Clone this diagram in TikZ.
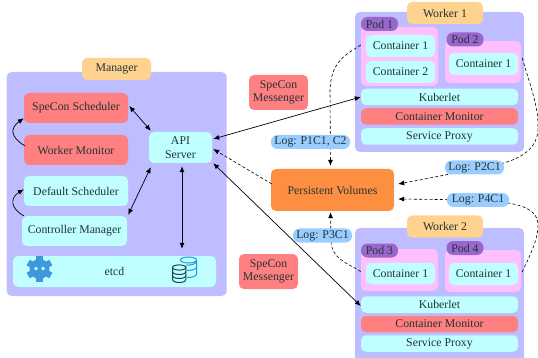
\documentclass[tikz,border=0pt]{standalone}
\usepackage{fontspec}
\setmainfont{Liberation Serif}
\usetikzlibrary{arrows.meta,calc}
\definecolor{panel}{HTML}{BDBDFF}
\definecolor{redb}{HTML}{FF8080}
\definecolor{cyanb}{HTML}{BFFFFF}
\definecolor{orangel}{HTML}{FFD28F}
\definecolor{pinkb}{HTML}{FFBFFF}
\definecolor{podl}{HTML}{9966CC}
\definecolor{pvb}{HTML}{FF8F40}
\definecolor{logb}{HTML}{99CCFF}
\definecolor{ink}{HTML}{223333}
\definecolor{gearb}{HTML}{3F97DC}
\definecolor{dbb}{HTML}{1E9BD7}
\definecolor{dbd}{HTML}{17474F}
\tikzset{
  lbl/.style={text=ink,font=\fontsize{11.8}{13.5}\selectfont,align=center},
  panelb/.style={fill=panel,rectangle,rounded corners=5pt,inner sep=0pt},
  redbox/.style={fill=redb,rectangle,rounded corners=5pt,inner sep=0pt,lbl},
  cyanbox/.style={fill=cyanb,rectangle,rounded corners=5pt,inner sep=0pt,lbl},
  orangebox/.style={fill=orangel,rectangle,rounded corners=5pt,inner sep=0pt,lbl},
  pinkbox/.style={fill=pinkb,rectangle,rounded corners=5pt,inner sep=0pt},
  podtag/.style={fill=podl,rectangle,rounded corners=6.5pt,inner sep=0pt,lbl},
  logtag/.style={fill=logb,rectangle,rounded corners=6.5pt,inner sep=0pt,lbl},
  pvbox/.style={fill=pvb,rectangle,rounded corners=5pt,inner sep=0pt,lbl},
  sz/.style 2 args={minimum width=#1,minimum height=#2},
  solidarr/.style={-{Latex[length=6pt,width=5pt]},black,line width=.7pt},
  dblarr/.style={{Latex[length=6pt,width=5pt]}-{Latex[length=6pt,width=5pt]},black,line width=.7pt},
  dasharr/.style={-{Latex[length=6pt,width=5pt]},black,line width=.6pt,dash pattern=on 3pt off 2.2pt},
}
\begin{document}
\begin{tikzpicture}[x=1pt,y=-1pt]
\clip (0,0) rectangle (538,358);
% Manager
\node[panelb,sz={220pt}{224pt}] (mgr) at (116.7,184) {};
\node[orangebox,sz={69pt}{22pt}] (mgrl) at (116.5,69) {Manager};
\node[redbox,sz={104pt}{30pt}] (sched) at (76,108) {SpeCon Scheduler};
\node[redbox,sz={104pt}{30pt}] (mon) at (76,150) {Worker Monitor};
\node[cyanbox,sz={104pt}{30pt}] (dsch) at (76,191) {Default Scheduler};
\node[cyanbox,sz={105pt}{30pt}] (ctrl) at (74.5,231) {Controller Manager};
\node[cyanbox,sz={63pt}{31pt}] (api) at (180.5,147.5) {API\\Server};
\node[cyanbox,sz={203pt}{31pt}] (etcd) at (114.5,271.5) {etcd};
% gear icon
\begin{scope}[shift={(39.5,269)}]
  \fill[gearb] (0,0) circle (10);
  \foreach \a in {0,60,...,300}{\fill[gearb,rotate=\a] (-3.2,-13) rectangle (3.2,-8);}
  \fill[cyanb] (-3.6,-0.5) circle (1.9);
  \fill[cyanb] (3.6,-0.5) circle (1.9);
\end{scope}
% database icon
\begin{scope}[line width=1pt]
  \begin{scope}[color=dbb]
    \draw (188.5,260) ellipse [x radius=8pt,y radius=3pt];
    \draw (196.5,260) -- (196.5,274) .. controls (196.5,276) and (193,277.5) .. (187,277.5);
    \draw (186,265) -- (186,265) .. controls (191,265.5) and (196.5,264) .. (196.5,261);
    \draw (187,270.5) .. controls (191,270.5) and (196.5,269.5) .. (196.5,267);
  \end{scope}
  \begin{scope}[color=dbd]
    \filldraw[fill=cyanb] (172.5,267.5) -- (172.5,279.5) .. controls (172.5,283.5) and (185.9,283.5) .. (185.9,279.5) -- (185.9,267.5) -- cycle;
    \filldraw[fill=cyanb] (179.2,267.5) ellipse [x radius=6.7pt,y radius=2.6pt];
    \draw (172.5,271.5) .. controls (172.5,275.5) and (185.9,275.5) .. (185.9,271.5);
    \draw (172.5,275.5) .. controls (172.5,279.5) and (185.9,279.5) .. (185.9,275.5);
  \end{scope}
\end{scope}
% Worker 1
\node[panelb,sz={169pt}{140pt}] (w1) at (439.5,82) {};
\node[orangebox,sz={76pt}{22pt}] (w1l) at (445,13) {Worker 1};
\node[pinkbox,sz={77pt}{59pt}] (p1) at (399.5,56.5) {};
\node[podtag,sz={37pt}{14pt}] (p1l) at (379.5,24) {Pod 1};
\node[cyanbox,sz={69pt}{22pt}] (c11) at (400.5,46) {Container 1};
\node[cyanbox,sz={69pt}{22pt}] (c12) at (400.5,72) {Container 2};
\node[pinkbox,sz={76pt}{42pt}] (p2) at (483,62) {};
\node[podtag,sz={37pt}{14pt}] (p2l) at (465,39.5) {Pod 2};
\node[cyanbox,sz={69pt}{22pt}] (c21) at (483.5,64) {Container 1};
\node[cyanbox,sz={157pt}{16.5pt}] (k1) at (439.5,97) {Kuberlet};
\node[redbox,sz={157pt}{16.5pt}] (m1) at (439.5,116.5) {Container Monitor};
\node[cyanbox,sz={157pt}{16.5pt}] (s1) at (439.5,136.5) {Service Proxy};
% Worker 2
\node[panelb,sz={169pt}{140pt}] (w2) at (439.5,298) {};
\node[orangebox,sz={76pt}{22pt}] (w2l) at (445,226.5) {Worker 2};
\node[pinkbox,sz={77pt}{42pt}] (p3) at (399.5,270) {};
\node[podtag,sz={37pt}{14pt}] (p3l) at (379.5,250.5) {Pod 3};
\node[cyanbox,sz={69pt}{21.5pt}] (c31) at (400.5,273.5) {Container 1};
\node[pinkbox,sz={76pt}{42pt}] (p4) at (483,271) {};
\node[podtag,sz={37pt}{14pt}] (p4l) at (465,248) {Pod 4};
\node[cyanbox,sz={69pt}{22pt}] (c41) at (483.5,274) {Container 1};
\node[cyanbox,sz={157pt}{16.5pt}] (k2) at (439.5,304.5) {Kuberlet};
\node[redbox,sz={157pt}{16.5pt}] (m2) at (439.5,324) {Container Monitor};
\node[cyanbox,sz={157pt}{16.5pt}] (s2) at (439.5,343.5) {Service Proxy};
% Middle
\node[redbox,sz={59pt}{35pt}] (msg1) at (278.5,92.5) {SpeCon\\Messenger};
\node[redbox,sz={59pt}{35pt}] (msg2) at (268.5,271.5) {SpeCon\\Messenger};
\node[pvbox,sz={123pt}{42pt}] (pv) at (332.5,190) {Persistent Volumes};
% Connectors
\coordinate (pvtop) at ($(pv.north)+(-2,-3)$);
\coordinate (pvbot) at ($(pv.south)+(-2,1)$);
\draw[dasharr] ($(c11.west)+(-5,-1)$) .. controls (345,55) and (331,62) .. (330,90) -- (pvtop);
\draw[dasharr] ($(c31.west)+(-5,-2)$) .. controls (345,262) and (331,258) .. (331,240) -- (pvbot);
\draw[dasharr] ($(p2.east)+(1,-4)$) .. controls (530,85) and (538,105) .. (538,125) .. controls (540,160) and (500,165) .. (460,172) .. controls (440,176) and (420,180) .. ($(pv.east)+(4,-6)$);
\draw[dasharr] ($(p4.east)+(1,1)$) .. controls (530,255) and (538,240) .. (538,225) .. controls (538,205) and (510,202) .. (478,200) -- ($(pv.east)+(4,9)$);
\draw[dasharr] ($(pv.west)+(1,-6)$) -- ($(api.east)+(1,1.5)$);
\draw[dblarr] ($(api.east)+(1,-8.5)$) -- ($(k1.west)+(0,0)$);
\draw[dblarr] ($(api.south east)+(1,0)$) -- ($(k2.west)+(0,1.5)$);
\draw[dblarr] ($(sched.east)+(1,-2)$) -- ($(api.north west)+(2,-1)$);
\draw[dblarr] ($(ctrl.north east)+(1,-1)$) -- ($(api.south west)+(2,4)$);
\draw[dblarr] ($(api.south)+(1.5,3)$) -- ($(etcd.north)+(67.5,-7)$);
\draw[solidarr] ($(mon.north west)+(1,11)$) .. controls (10,137) and (10,128) .. ($(sched.south west)+(0,-5)$);
\draw[solidarr] ($(ctrl.north west)+(2,0)$) .. controls (10,208) and (10,198) .. ($(dsch.south west)+(0,-17)$);
% Log tags
\node[logtag,sz={79pt}{14pt}] (l1) at (310.5,142) {Log: P1C1, C2};
\node[logtag,sz={59pt}{14pt}] (l2) at (474.5,167.5) {Log: P2C1};
\node[logtag,sz={59pt}{14pt}] (l3) at (322.5,235.5) {Log: P3C1};
\node[logtag,sz={62pt}{14pt}] (l4) at (478,200) {Log: P4C1};
\end{tikzpicture}
\end{document}
